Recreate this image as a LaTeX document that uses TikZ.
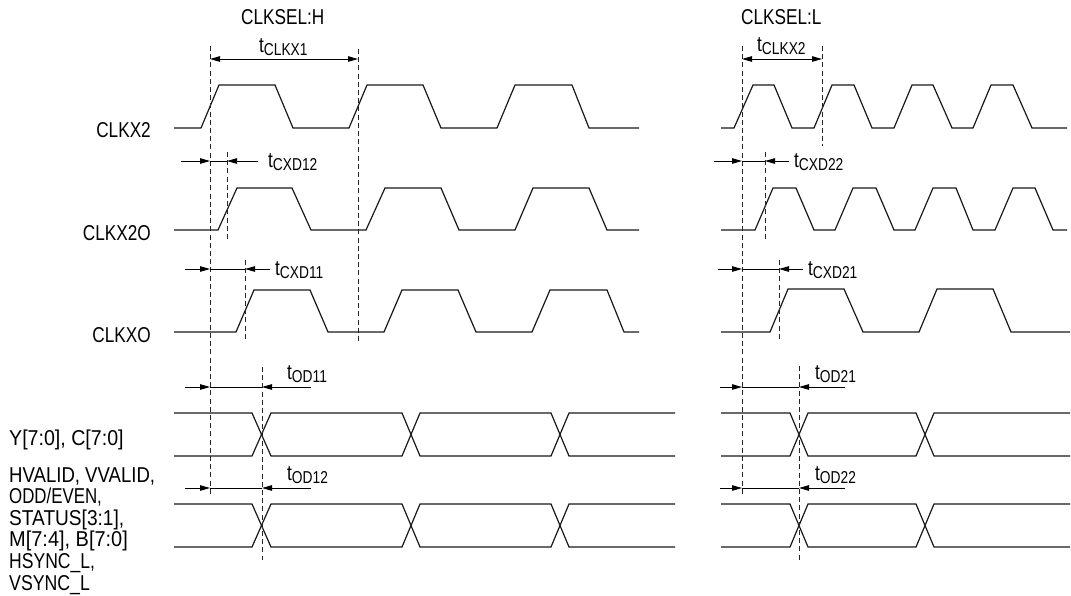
\documentclass[tikz,border=0pt]{standalone}
\usepackage{fontspec}
\setmainfont[FakeStretch=0.8]{Liberation Sans}
\usetikzlibrary{arrows.meta}
\tikzset{
  wave/.style={line width=1.2pt,black!90},
  guide/.style={line width=1pt,dash pattern=on 5pt off 3.2pt,black!85},
  dim/.style={line width=0.9pt,-{Triangle[length=10pt,width=5.5pt]},black},
  dimline/.style={line width=0.9pt,{Triangle[length=10pt,width=5.5pt]}-{Triangle[length=10pt,width=5.5pt]},black},
  lbl/.style={inner sep=0pt,font=\fontsize{21.5}{21.5}\selectfont,anchor=base west},
  sig/.style={inner sep=0pt,font=\fontsize{21.5}{21.5}\selectfont,anchor=base east},
  stack/.style={inner sep=0pt,font=\fontsize{21.5}{21.6}\selectfont,anchor=north west,align=left},
}
\newcommand{\tsub}[1]{t\raisebox{-3pt}{\fontsize{17.2}{16}\selectfont #1}}
\newcommand{\wider}[2]{\scalebox{#1}[1]{#2}}
\begin{document}
\begin{tikzpicture}[x=1pt,y=-1pt]
\useasboundingbox (0,0) rectangle (1071,595);
% waveforms - left
\draw[wave] (174,128)--(201,128)--(219,85)--(275,85)--(293,128)--(349,128)--(367,85)--(423,85)--(441,128)--(497,128)--(515,85)--(572,85)--(589,128)--(639,128);
\draw[wave] (174,230)--(218,230)--(237,188)--(292,188)--(311,230)--(366,230)--(385,188)--(441,188)--(459,230)--(515,230)--(533,188)--(589,188)--(607,230)--(639,230);
\draw[wave] (174,332)--(236,332)--(254,290)--(310,290)--(328,332)--(384,332)--(402,290)--(458,290)--(476,332)--(532,332)--(550,290)--(607,290)--(624,332)--(639,332);
\foreach \t/\b in {413/456,504/547}{
  \draw[wave] (174,\t)--(252,\t)--(271,\b)--(402,\b)--(420,\t)--(551,\t)--(569,\b)--(675,\b);
  \draw[wave] (174,\b)--(252,\b)--(271,\t)--(402,\t)--(420,\b)--(551,\b)--(569,\t)--(675,\t);
}
% waveforms - right
\draw[wave] (721,128)--(734,128)--(753,85)--(774,85)--(792,128)--(814,128)--(832,85)--(854,85)--(872,128)--(894,128)--(912,85)--(933,85)--(952,128)--(973,128)--(991,85)--(1013,85)--(1032,128)--(1067,128);
\draw[wave] (721,230)--(755,230)--(773,188)--(796,188)--(814,230)--(835,230)--(853,188)--(876,188)--(894,230)--(915,230)--(933,188)--(956,188)--(973,230)--(995,230)--(1013,188)--(1035,188)--(1053,230)--(1067,230);
\draw[wave] (721,332)--(770,332)--(788,289)--(844,289)--(863,332)--(919,332)--(937,289)--(993,289)--(1011,332)--(1070,332);
\foreach \t/\b in {413/456,504/547}{
  \draw[wave] (721,\t)--(790,\t)--(808,\b)--(916,\b)--(934,\t)--(1070,\t);
  \draw[wave] (721,\b)--(790,\b)--(808,\t)--(916,\t)--(934,\b)--(1070,\b);
}
% guide end points
\foreach \n/\x/\a/\b in {g1/210/46/496,g2/358/49/343,g3/227/152/241,g4/245/260/341,g5/262/367/560,
  h1/742/46/496,h2/822/46/146,h3/765/152/241,h4/779/260/341,h5/799/366/560}{
  \coordinate (\n a) at (\x,\a);
  \coordinate (\n b) at (\x,\b);
  \draw[guide] (\n a)--(\n b);
}
% dimension ends
\coordinate (c1l) at (210,59); \coordinate (c1r) at (358,59);
\coordinate (c2l) at (742,59); \coordinate (c2r) at (822,59);
\draw[dimline] (c1l)--(c1r);
\draw[dimline] (c2l)--(c2r);
\foreach \n/\y/\la/\lb/\ra/\rb in {
  d1/161/181/210/258/227, d2/269/185/210/270/245, d3/387/185/210/311/262, d4/488/185/210/311/262,
  e1/161/714/742/789/765, e2/269/718/742/803/779, e3/387/720/742/845/799, e4/488/720/742/845/799}{
  \coordinate (\n a) at (\la,\y); \coordinate (\n b) at (\lb,\y);
  \coordinate (\n c) at (\ra,\y); \coordinate (\n d) at (\rb,\y);
  \draw[dim] (\n a)--(\n b);
  \draw[dim] (\n c)--(\n d);
  \draw[line width=0.9pt] (\n b)--(\n d);
}
% labels
\node[lbl] (selh) at (241,24) {CLKSEL:H};
\node[lbl] (sell) at (741,24) {CLKSEL:L};
\node[lbl] (tc1) at (259,52) {\tsub{CLKX1}};
\node[lbl] (tc2) at (757,51) {\tsub{CLKX2}};
\node[lbl] (t12) at (268,167) {\tsub{CXD12}};
\node[lbl] (t22) at (794,167) {\tsub{CXD22}};
\node[lbl] (t11) at (275,275) {\tsub{CXD11}};
\node[lbl] (t21) at (808,275) {\tsub{CXD21}};
\node[lbl] (o11) at (287,379) {\tsub{OD11}};
\node[lbl] (o21) at (815,379) {\tsub{OD21}};
\node[lbl] (o12) at (287,480) {\tsub{OD12}};
\node[lbl] (o22) at (815,480) {\tsub{OD22}};
\node[sig] (clkx2) at (151,137) {CLKX2};
\node[sig] (clkx2o) at (151,240) {CLKX2O};
\node[sig] (clkxo) at (151,342) {CLKXO};
\node[lbl] (yc) at (9,445) {\wider{1.14}{Y[7:0], C[7:0]}};
\node[stack] (hv) at (9,467) {\wider{1.08}{HVALID, VVALID,}\\\wider{0.98}{ODD/EVEN,}\\\wider{1.11}{STATUS[3:1],}\\\wider{1.16}{M[7:4], B[7:0]}\\\wider{1.02}{HSYNC\_L,}\\\wider{1.03}{VSYNC\_L}};
\end{tikzpicture}
\end{document}
